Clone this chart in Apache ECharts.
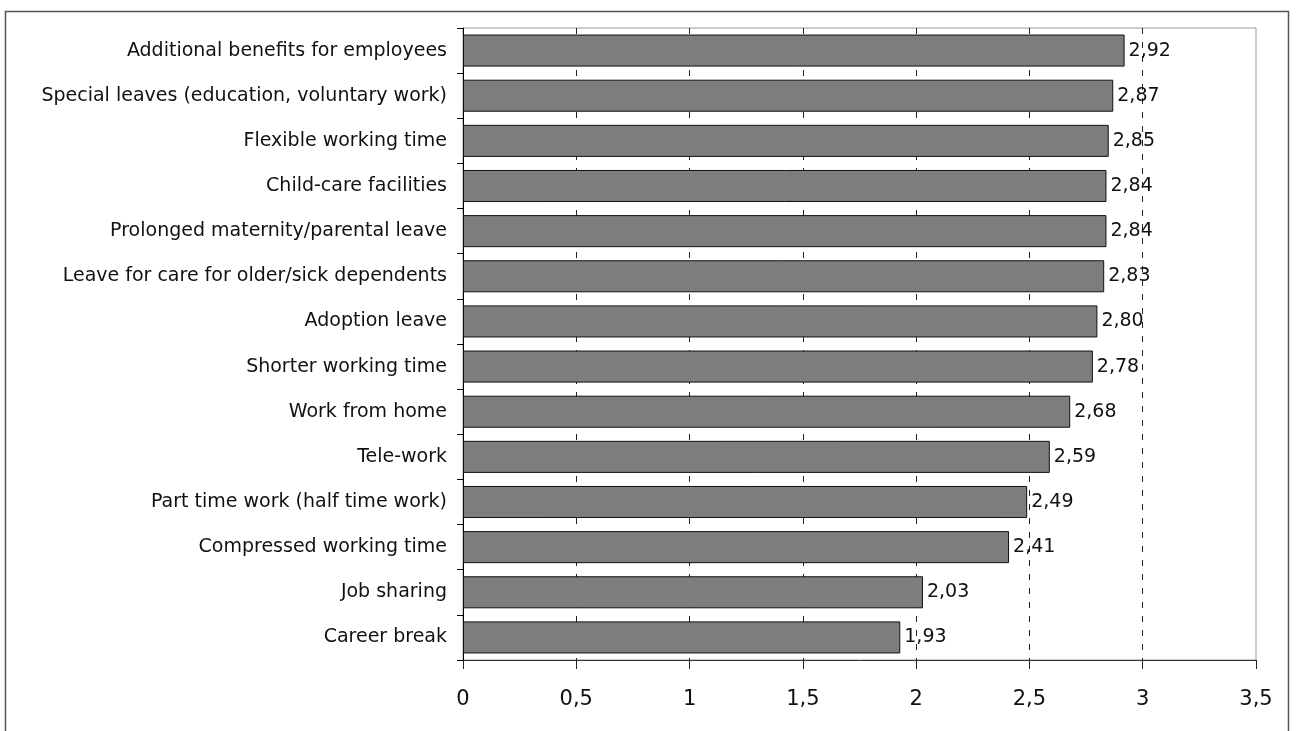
<!DOCTYPE html>
<html>
<head>
<meta charset="utf-8">
<script src="https://cdn.jsdelivr.net/npm/echarts@6/dist/echarts.min.js"></script>
<style>
html,body{margin:0;padding:0;background:#fff;}
#chart{width:1298px;height:731px;}
</style>
</head>
<body>
<div id="chart"></div>
<script>
const categories = [
  "Additional benefits for employees",
  "Special leaves (education, voluntary work)",
  "Flexible working time",
  "Child-care facilities",
  "Prolonged maternity/parental leave",
  "Leave for care for older/sick dependents",
  "Adoption leave",
  "Shorter working time",
  "Work from home",
  "Tele-work",
  "Part time work (half time work)",
  "Compressed working time",
  "Job sharing",
  "Career break"
];
const values = [2.92, 2.87, 2.85, 2.84, 2.84, 2.83, 2.80, 2.78, 2.68, 2.59, 2.49, 2.41, 2.03, 1.93];
const xMin = 0, xMax = 3.5, xInterval = 0.5;

const FONT = "DejaVu Sans";
const chart = echarts.init(document.getElementById('chart'), null, {renderer: 'canvas'});
chart.setOption({
  animation: false,
  backgroundColor: '#fff',
  graphic: [{
    type: 'rect',
    shape: {x: 5.5, y: 11.5, width: 1283, height: 740},
    style: {fill: 'none', stroke: '#555', lineWidth: 1.5},
    silent: true
  }],
  grid: {
    left: 463, right: 42, top: 28, bottom: 71,
    show: true, borderColor: '#999', borderWidth: 1, backgroundColor: 'transparent'
  },
  xAxis: {
    type: 'value',
    min: xMin, max: xMax, interval: xInterval,
    axisLine: {show: true, lineStyle: {color: '#333', width: 1}},
    axisTick: {show: true, length: 9, lineStyle: {color: '#222'}},
    axisLabel: {
      margin: 29, fontFamily: FONT, fontSize: 21, color: '#111',
      formatter: v => String(v).replace('.', ',')
    },
    splitLine: {show: true, showMaxLine: false, lineStyle: {color: '#222', type: [6, 8], width: 1}}
  },
  yAxis: {
    type: 'category',
    data: categories,
    inverse: true,
    axisLine: {show: true, lineStyle: {color: '#000', width: 1}},
    axisTick: {show: true, length: 6, lineStyle: {color: '#000'}},
    axisLabel: {margin: 16, fontFamily: FONT, fontSize: 19, color: '#111'}
  },
  series: [{
    type: 'bar',
    data: values,
    barCategoryGap: '29%',
    itemStyle: {color: '#7d7d7d', borderColor: '#111', borderWidth: 1},
    label: {
      show: true, position: 'right', distance: 4,
      fontFamily: FONT, fontSize: 19, color: '#111',
      formatter: p => p.value.toFixed(2).replace('.', ',')
    }
  }]
});
</script>
</body>
</html>
